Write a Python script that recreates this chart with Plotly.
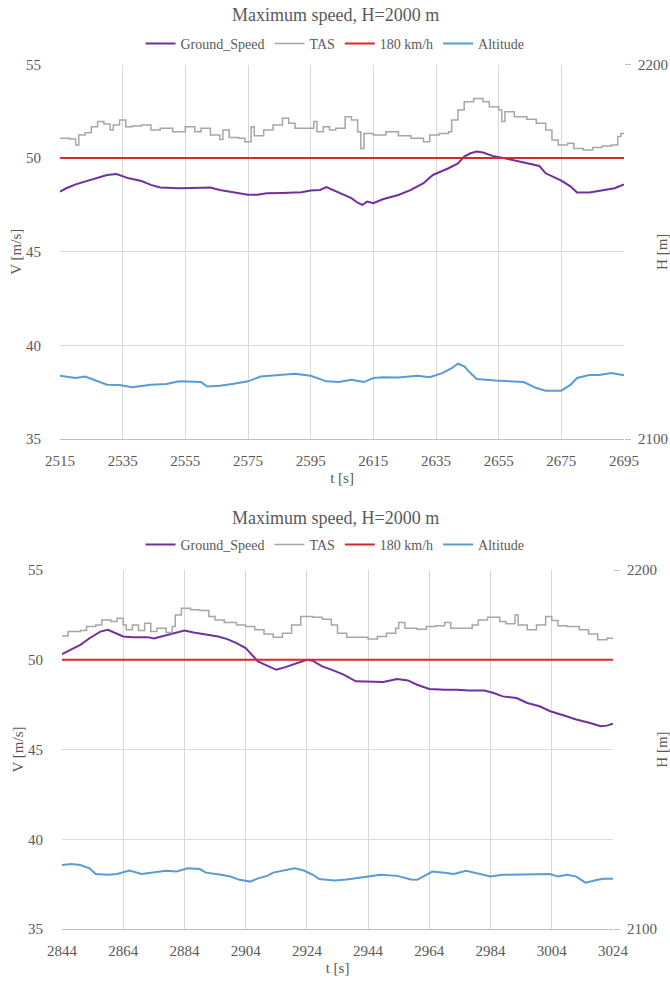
import plotly.graph_objects as go

# ---------------- Run 1: t = 2515 ... 2695 s ----------------
t1_gs = [2515, 2517, 2520, 2524, 2527, 2530, 2533, 2534, 2537, 2541, 2544, 2547, 2550, 2553,
         2557, 2560, 2563, 2566, 2570, 2575, 2578, 2581, 2586, 2592, 2595, 2598, 2600, 2602,
         2604, 2606, 2608, 2610, 2611.5, 2613, 2615, 2618, 2623, 2627, 2631, 2634, 2639, 2642,
         2644, 2646, 2648, 2650, 2653, 2657, 2661, 2665, 2668, 2670, 2675, 2678, 2680, 2684,
         2688, 2692, 2695]
gs1 = [48.21, 48.39, 48.60, 48.80, 48.98, 49.10, 49.15, 49.10, 48.92, 48.78, 48.57, 48.43, 48.39, 48.39,
       48.40, 48.43, 48.43, 48.30, 48.18, 48.05, 48.05, 48.12, 48.14, 48.18, 48.27, 48.30, 48.45, 48.30,
       48.15, 48.03, 47.86, 47.62, 47.50, 47.68, 47.59, 47.80, 48.03, 48.30, 48.66, 49.10, 49.46, 49.72,
       50.08, 50.26, 50.35, 50.30, 50.12, 49.99, 49.85, 49.72, 49.58, 49.19, 48.80, 48.48, 48.16, 48.16,
       48.27, 48.39, 48.60]

t1_tas = [2515, 2518, 2520, 2521, 2523, 2525, 2527, 2529, 2531, 2532, 2534, 2536, 2538, 2541, 2544,
          2547, 2551, 2555, 2558, 2560, 2563, 2566, 2567, 2569, 2572, 2574, 2576, 2577, 2580, 2583,
          2586, 2588, 2590, 2594, 2596, 2597, 2599, 2601, 2603, 2606, 2608, 2610, 2611, 2612, 2615,
          2619, 2623, 2627, 2631, 2633, 2636, 2639, 2640, 2642, 2644, 2647, 2650, 2652, 2655, 2656,
          2657, 2660, 2664, 2667, 2670, 2672, 2674, 2677, 2679, 2682, 2685, 2688, 2691, 2693, 2694, 2695]
tas1 = [51.06, 51.02, 50.70, 51.24, 51.36, 51.68, 51.95, 51.82, 51.50, 51.77, 52.04, 51.68, 51.72, 51.77, 51.50,
        51.59, 51.41, 51.68, 51.41, 51.59, 51.24, 51.00, 51.50, 51.10, 51.06, 50.88, 51.68, 51.19, 51.50, 51.77,
        52.13, 51.86, 51.59, 51.59, 51.95, 51.41, 51.68, 51.50, 51.59, 52.21, 52.04, 51.41, 50.52, 51.32, 51.24,
        51.41, 51.19, 51.06, 50.88, 51.24, 51.32, 51.41, 52.04, 52.57, 53.01, 53.19, 53.01, 52.75, 52.57, 51.95,
        52.48, 52.21, 52.07, 51.86, 51.50, 50.97, 50.70, 50.79, 50.52, 50.43, 50.57, 50.65, 50.70, 51.15, 51.32, 51.32]

t1_alt = [2515, 2520, 2523, 2527, 2530, 2534, 2538, 2544, 2549, 2553, 2560, 2562, 2566, 2570, 2575,
          2579, 2583, 2587, 2590, 2595, 2600, 2604, 2608, 2612, 2615, 2618, 2623, 2629, 2633, 2637,
          2640, 2642, 2644, 2646, 2648, 2654, 2659, 2663, 2667, 2670, 2675, 2678, 2680, 2684, 2687,
          2691, 2695]
alt1 = [2116.9, 2116.3, 2116.7, 2115.4, 2114.5, 2114.4, 2113.8, 2114.5, 2114.7, 2115.4, 2115.2, 2114.0, 2114.2, 2114.7, 2115.4,
        2116.7, 2116.9, 2117.1, 2117.4, 2116.9, 2115.4, 2115.2, 2115.8, 2115.2, 2116.3, 2116.5, 2116.4, 2116.9, 2116.5, 2117.6,
        2118.9, 2120.1, 2119.4, 2117.6, 2116.0, 2115.6, 2115.4, 2115.2, 2113.6, 2112.9, 2112.9, 2114.5, 2116.3, 2117.1, 2117.1,
        2117.6, 2117.0]

# ---------------- Run 2: t = 2844 ... 3024 s ----------------
t2_gs = [2844, 2847, 2850, 2853, 2856.5, 2859, 2862, 2864, 2867, 2872, 2874, 2877, 2880.5, 2884, 2887,
         2891, 2895, 2898, 2901, 2904, 2906.5, 2908, 2911, 2914, 2917, 2921, 2924, 2926, 2929, 2932,
         2936, 2940, 2945, 2949, 2953.5, 2957, 2960, 2964, 2969, 2973, 2977, 2982, 2985, 2988, 2992.5,
         2996, 3000, 3003.5, 3008, 3012, 3016.5, 3020, 3022, 3024]
gs2 = [50.31, 50.56, 50.83, 51.20, 51.57, 51.67, 51.44, 51.30, 51.26, 51.26, 51.19, 51.33, 51.48, 51.63, 51.52,
       51.39, 51.30, 51.15, 50.93, 50.65, 50.19, 49.91, 49.67, 49.44, 49.59, 49.81, 50.00, 49.94, 49.63, 49.45,
       49.17, 48.80, 48.80, 48.76, 48.93, 48.85, 48.61, 48.37, 48.33, 48.33, 48.28, 48.28, 48.15, 47.96, 47.87,
       47.59, 47.41, 47.13, 46.89, 46.67, 46.48, 46.30, 46.33, 46.44]

t2_tas = [2844, 2846, 2850, 2852, 2855, 2857, 2860, 2862, 2864, 2865, 2867, 2869, 2871, 2873, 2875,
          2878, 2880, 2881, 2883, 2886, 2889, 2892, 2894, 2897, 2901, 2904, 2907, 2910, 2913, 2916,
          2919, 2922, 2926, 2929, 2932, 2934, 2937, 2944, 2947, 2950, 2953, 2954, 2956, 2960, 2963,
          2966, 2969, 2971, 2975, 2978, 2980, 2983, 2987, 2989, 2992, 2993, 2996, 2999, 3002, 3004,
          3006, 3009, 3013, 3016, 3019, 3022, 3024]
tas2 = [51.33, 51.57, 51.63, 51.85, 51.94, 52.22, 52.13, 52.31, 51.94, 51.67, 51.94, 51.63, 52.04, 51.57, 51.76,
        51.52, 51.85, 52.50, 52.87, 52.78, 52.74, 52.41, 52.22, 52.07, 51.94, 51.85, 51.67, 51.44, 51.26, 51.48,
        51.94, 52.41, 52.37, 52.26, 51.94, 51.48, 51.26, 51.15, 51.30, 51.48, 51.76, 52.07, 51.76, 51.70, 51.85,
        51.89, 52.07, 51.76, 51.76, 51.94, 52.22, 52.37, 52.13, 52.00, 52.50, 51.94, 51.67, 51.94, 52.41, 52.18,
        51.89, 51.85, 51.67, 51.44, 51.11, 51.20, 51.15]

t2_alt = [2844, 2847, 2850, 2853, 2855, 2859, 2862, 2866, 2870, 2874, 2878, 2881.5, 2885, 2889, 2891,
          2896, 2899, 2902, 2905.5, 2908, 2911, 2913, 2916, 2920, 2923, 2926, 2928, 2933, 2937, 2943,
          2948, 2953.5, 2958, 2960, 2963, 2965, 2969, 2972, 2976, 2980, 2984, 2988, 2993, 2997, 3001,
          3003.5, 3006, 3009, 3012, 3015, 3019, 3021, 3024]
alt2 = [2117.8, 2118.1, 2117.8, 2116.9, 2115.3, 2115.1, 2115.3, 2116.3, 2115.3, 2115.7, 2116.2, 2116.0, 2116.9, 2116.7, 2115.7,
        2115.1, 2114.6, 2113.7, 2113.2, 2114.1, 2114.8, 2115.7, 2116.3, 2116.9, 2116.3, 2115.1, 2113.9, 2113.5, 2113.8, 2114.4,
        2115.1, 2114.8, 2113.8, 2113.7, 2115.1, 2116.0, 2115.7, 2115.3, 2116.2, 2115.3, 2114.6, 2115.1, 2115.1, 2115.3, 2115.1,
        2115.3, 2114.6, 2115.1, 2114.6, 2112.9, 2113.7, 2114.0, 2114.0]

# Speed limit line: 180 km/h expressed in m/s
limit_kmh = 180
limit_ms = limit_kmh / 3.6

title_text = "Maximum speed, H=2000 m"
ticks1 = [2515, 2535, 2555, 2575, 2595, 2615, 2635, 2655, 2675, 2695]
ticks2 = [2844, 2864, 2884, 2904, 2924, 2944, 2964, 2984, 3004, 3024]

C_GS = "#7030a0"
C_TAS = "#a6a6a6"
C_LIM = "#d9272e"
C_ALT = "#5b9bd5"
GRID = "#d9d9d9"
TXT = "#595959"
FONT = "Liberation Serif"

W, H = 670, 981


def py(px):
    # convert a pixel row (from the top) to paper coordinates
    return 1 - px / H


fig = go.Figure()


def add_run(t_gs, gs, t_tas, tas, t_alt, alt, xa, ya, ya2, leg):
    fig.add_trace(go.Scatter(x=t_gs, y=gs, name="Ground_Speed", mode="lines",
                             line=dict(color=C_GS, width=2), xaxis=xa, yaxis=ya, legend=leg))
    fig.add_trace(go.Scatter(x=t_tas, y=tas, name="TAS", mode="lines",
                             line=dict(color=C_TAS, width=1.5, shape="hv"), xaxis=xa, yaxis=ya, legend=leg))
    fig.add_trace(go.Scatter(x=[t_gs[0], t_gs[-1]], y=[limit_ms, limit_ms], name=f"{limit_kmh} km/h",
                             mode="lines", line=dict(color=C_LIM, width=2), xaxis=xa, yaxis=ya, legend=leg))
    fig.add_trace(go.Scatter(x=t_alt, y=alt, name="Altitude", mode="lines",
                             line=dict(color=C_ALT, width=2), xaxis=xa, yaxis=ya2, legend=leg))


add_run(t1_gs, gs1, t1_tas, tas1, t1_alt, alt1, "x", "y", "y2", "legend")
add_run(t2_gs, gs2, t2_tas, tas2, t2_alt, alt2, "x2", "y3", "y4", "legend2")

tick_font = dict(family=FONT, size=15, color=TXT)

xcommon = dict(showgrid=True, gridcolor=GRID, gridwidth=1, showline=True, linecolor="#bfbfbf",
               linewidth=1, ticks="", tickfont=tick_font, zeroline=False, ticklabelstandoff=8,
               automargin=False,
               title=dict(text="t [s]", font=tick_font, standoff=4))
yleft = dict(range=[35, 55], dtick=5, tick0=35, showgrid=True, gridcolor=GRID, gridwidth=1,
             showline=False, ticks="", tickfont=tick_font, zeroline=False, ticklabelstandoff=18,
             automargin=False,
             title=dict(text="V [m/s]", font=tick_font, standoff=0))
yright = dict(range=[2100, 2200], dtick=100, tick0=2100, showgrid=False, showline=False,
              ticks="outside", ticklen=6, tickcolor="#bfbfbf", tickfont=tick_font, zeroline=False,
              side="right", ticklabelstandoff=4, automargin=False,
              title=dict(text="H [m]", font=tick_font, standoff=0))

fig.update_layout(
    template="none",
    width=W, height=H,
    margin=dict(l=0, r=0, t=0, b=0, autoexpand=False),
    paper_bgcolor="white", plot_bgcolor="white",
    font=dict(family=FONT, color=TXT),
    xaxis=dict(xcommon, domain=[60 / W, 624 / W], range=[2515, 2695], tickvals=ticks1, anchor="y"),
    yaxis=dict(yleft, domain=[py(439), py(64.5)], anchor="x"),
    yaxis2=dict(yright, overlaying="y", anchor="x"),
    xaxis2=dict(xcommon, domain=[62 / W, 613 / W], range=[2844, 3024], tickvals=ticks2, anchor="y3"),
    yaxis3=dict(yleft, domain=[py(929), py(570)], anchor="x2"),
    yaxis4=dict(yright, overlaying="y3", anchor="x2"),
    legend=dict(orientation="h", x=0.5, xanchor="center", y=py(44), yanchor="middle",
                font=dict(family=FONT, size=14, color=TXT), bgcolor="rgba(0,0,0,0)",
                itemwidth=30, tracegroupgap=0),
    legend2=dict(orientation="h", x=0.5, xanchor="center", y=py(545), yanchor="middle",
                 font=dict(family=FONT, size=14, color=TXT), bgcolor="rgba(0,0,0,0)",
                 itemwidth=30, tracegroupgap=0),
    showlegend=True,
    annotations=[
        dict(text=title_text, x=0.5, y=py(15), xref="paper", yref="paper", showarrow=False,
             xanchor="center", yanchor="middle", font=dict(family=FONT, size=18, color=TXT)),
        dict(text=title_text, x=0.5, y=py(518), xref="paper", yref="paper", showarrow=False,
             xanchor="center", yanchor="middle", font=dict(family=FONT, size=18, color=TXT)),
    ],
)

fig.write_html("out.html")
